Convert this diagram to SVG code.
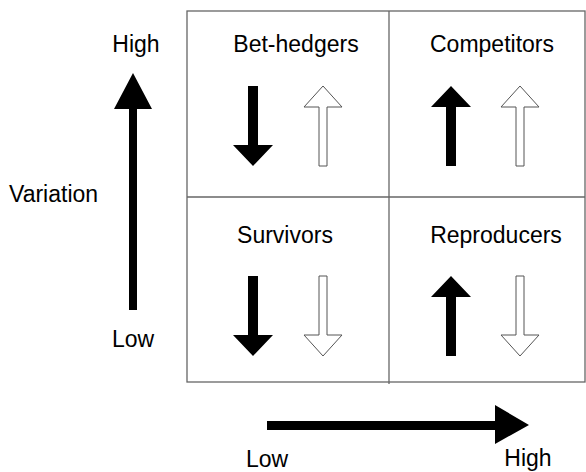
<svg xmlns="http://www.w3.org/2000/svg" xmlns:xlink="http://www.w3.org/1999/xlink" width="586" height="472" viewBox="0 0 586 472">
<style>
  text { font-family: "Liberation Sans", Arial, sans-serif; font-size: 23px; fill: #000; }
  .c { text-anchor: middle; }
  .grid { fill: none; stroke: #666; stroke-width: 1.3; }
  .solid { fill: #000; }
  .hollow { fill: #fff; stroke: #555; stroke-width: 1; }
</style>
<defs>
  <polygon id="down" points="-5,0 5,0 5,59 20,59 0,80 -20,59 -5,59"/>
  <polygon id="up" points="0,0 20,21 5,21 5,80 -5,80 -5,21 -20,21"/>
  <polygon id="hdown" points="-4,0 4,0 4,59 19,59 0,80 -19,59 -4,59"/>
  <polygon id="hup" points="0,0 19,21 4,21 4,80 -4,80 -4,21 -19,21"/>
</defs>
<rect width="586" height="472" fill="#fff"/>
<g id="grid">
  <rect class="grid" x="187" y="11" width="398" height="371"/>
  <line class="grid" x1="389" y1="11" x2="389" y2="384"/>
  <line class="grid" x1="187" y1="197" x2="585" y2="197"/>
</g>
<g id="bet-hedgers">
  <text class="c" x="296" y="52">Bet-hedgers</text>
  <use xlink:href="#down" class="solid" transform="translate(253,86)"/>
  <use xlink:href="#hup" class="hollow" transform="translate(323,86)"/>
</g>
<g id="competitors">
  <text class="c" x="492" y="52">Competitors</text>
  <use xlink:href="#up" class="solid" transform="translate(451,86)"/>
  <use xlink:href="#hup" class="hollow" transform="translate(520,86)"/>
</g>
<g id="survivors">
  <text class="c" x="285" y="243">Survivors</text>
  <use xlink:href="#down" class="solid" transform="translate(253,276)"/>
  <use xlink:href="#hdown" class="hollow" transform="translate(323,276)"/>
</g>
<g id="reproducers">
  <text class="c" x="496" y="243">Reproducers</text>
  <use xlink:href="#up" class="solid" transform="translate(451,276)"/>
  <use xlink:href="#hdown" class="hollow" transform="translate(520,276)"/>
</g>
<g id="connectors">
  <polygon class="solid" points="133,73 152,109 137,109 137,310 129,310 129,109 114,109"/>
  <polygon class="solid" points="529,425 495,444 495,430 267,430 267,421 495,421 495,405"/>
</g>
<g id="labels">
  <text class="c" x="136" y="52">High</text>
  <text class="c" x="133" y="347">Low</text>
  <text x="9" y="202">Variation</text>
  <text class="c" x="267" y="467">Low</text>
  <text class="c" x="528" y="466">High</text>
</g>
</svg>
